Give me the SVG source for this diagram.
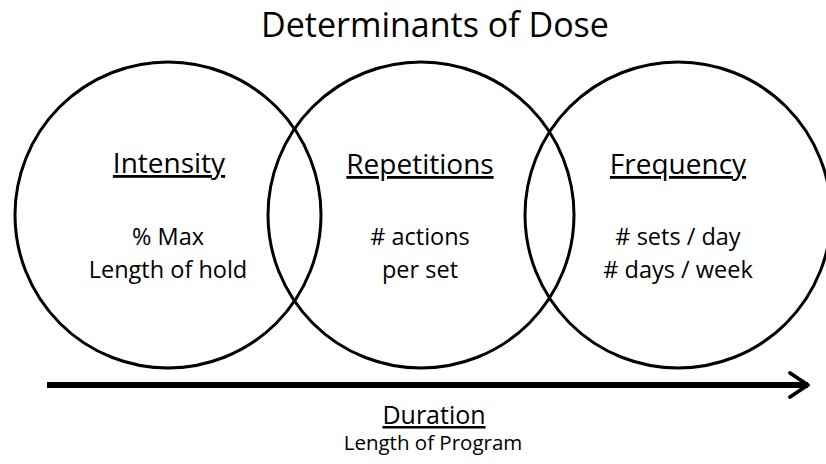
<svg xmlns="http://www.w3.org/2000/svg" width="826" height="464" viewBox="0 0 826 464">
<style>
text{font-family:"Open Sans","Liberation Sans",sans-serif;fill:#000;text-anchor:middle}
.ring{fill:none;stroke:#000;stroke-width:3}
.head{font-size:28px;text-decoration:underline}
.body{font-size:23.5px}
.title{font-size:34px}
</style>
<defs>
<marker id="chev" viewBox="0 0 10 10" refX="8" refY="5" markerWidth="5" markerHeight="5" markerUnits="strokeWidth" orient="auto">
<path d="M2,1 L8,5 L2,9" fill="none" stroke="#000" stroke-width="1.3" stroke-linecap="round" stroke-linejoin="round"/>
</marker>
</defs>
<rect width="826" height="464" fill="#fff"/>
<text class="title" x="435" y="37">Determinants of Dose</text>
<g id="intensity">
<circle class="ring" cx="168" cy="215" r="153"/>
<text class="head" x="169" y="173">Intensity</text>
<text class="body" x="168" y="245">% Max</text>
<text class="body" x="168" y="278">Length of hold</text>
</g>
<g id="repetitions">
<circle class="ring" cx="421" cy="215" r="153"/>
<text class="head" x="420" y="174">Repetitions</text>
<text class="body" x="420" y="245">#&#160;actions</text>
<text class="body" x="420" y="278">per set</text>
</g>
<g id="frequency">
<circle class="ring" cx="678" cy="215" r="153"/>
<text class="head" x="678" y="174">Frequency</text>
<text class="body" x="678" y="245"># sets / day</text>
<text class="body" x="678" y="278"># days / week</text>
</g>
<g id="connectors">
<line x1="47" y1="385" x2="808" y2="385" stroke="#000" stroke-width="6" marker-end="url(#chev)"/>
</g>
<g id="duration">
<text class="head" x="434" y="424" style="font-size:25px">Duration</text>
<text class="body" x="433" y="450" style="font-size:20.5px">Length of Program</text>
</g>
</svg>
